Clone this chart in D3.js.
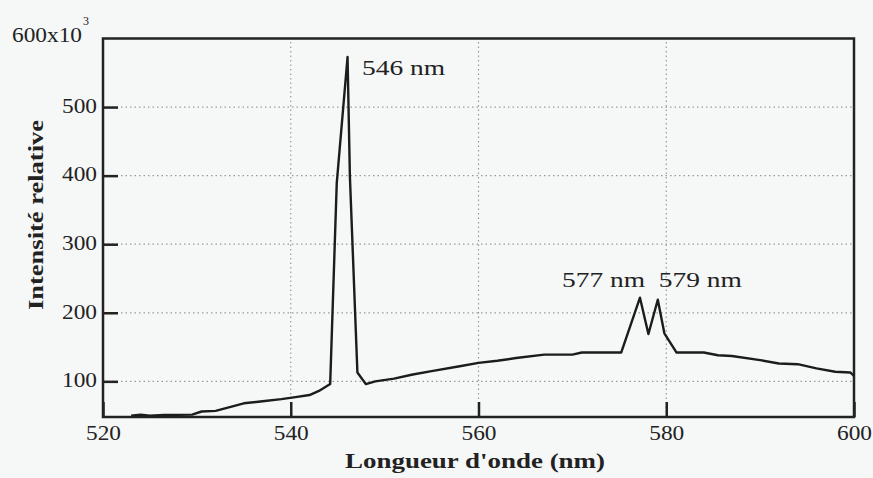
<!DOCTYPE html>
<html>
<head>
<meta charset="utf-8">
<script src="https://cdn.jsdelivr.net/npm/d3@7"></script>
<style>
  html, body { margin: 0; padding: 0; background: #f6f7f7; }
  svg { display: block; }
  text { font-family: "Liberation Serif", "Times New Roman", serif; fill: #222; }
</style>
</head>
<body>
<svg id="chart" width="873" height="478"></svg>
<script>
// ---- data ----
const wavelengths = [523, 524, 525, 526.5, 529.5, 530.5, 532, 535, 537, 539, 540.5, 542, 543, 544.2,
  544.9, 546.05, 546.3, 547.1, 548, 549, 551, 553, 555, 558, 560, 562, 564, 567, 570, 571,
  575.2, 577.2, 578.1, 579.1, 579.8, 581.1, 584, 585.5, 587, 590, 592, 594, 596, 598, 599.6, 600];
const intensities = [50, 51.5, 50, 51, 51.5, 56, 57, 68, 71, 74, 77, 80, 86, 96,
  389, 573, 399, 113, 96, 100, 104, 110, 115, 122, 127, 130, 134, 139, 139, 142,
  142, 222, 169, 219, 170, 142, 142, 138, 137, 131, 126, 125, 119, 114, 113, 108];
const xTicks = [520, 540, 560, 580, 600];
const yTicks = [100, 200, 300, 400, 500];
const peakLabels = ["546 nm", "577 nm", "579 nm"];
const peakLabelX = [547.6, 568.9, 579.2];   // left edge of label (nm)
const peakLabelY = [547, 238, 238];         // baseline (intensity units)
const xTitle = "Longueur d'onde (nm)";
const yTitle = "Intensité relative";

// ---- layout ----
const W = 873, H = 478;
const m = { left: 103, right: 19, top: 38.5, bottom: 61 };
const svg = d3.select("#chart");
const x = d3.scaleLinear().domain([520, 600]).range([m.left, W - m.right]);
const y = d3.scaleLinear().domain([48, 600]).range([H - m.bottom, m.top]);

// gridlines
const grid = svg.append("g").attr("stroke", "#9a9a9a").attr("stroke-width", 1.2)
  .attr("stroke-dasharray", "1.5,3");
grid.selectAll("line.h").data(yTicks).join("line")
  .attr("x1", x(520)).attr("x2", x(600)).attr("y1", d => y(d)).attr("y2", d => y(d));
grid.selectAll("line.v").data([540, 560, 580]).join("line")
  .attr("y1", y(48)).attr("y2", y(600)).attr("x1", d => x(d)).attr("x2", d => x(d));

// axes
const yAxis = svg.append("g").attr("transform", `translate(${m.left},0)`)
  .call(d3.axisLeft(y).tickValues(yTicks).tickSize(-15).tickPadding(6).tickFormat(d3.format("d")));
const xAxis = svg.append("g").attr("transform", `translate(0,${H - m.bottom})`)
  .call(d3.axisBottom(x).tickValues(xTicks).tickSize(-15).tickPadding(8).tickFormat(d3.format("d")));
[xAxis, yAxis].forEach(a => {
  a.select(".domain").remove();
  a.selectAll(".tick line").attr("stroke", "#222").attr("stroke-width", 2.5);
  a.selectAll(".tick text").attr("font-family", "Liberation Serif, serif")
    .attr("font-size", 21).attr("fill", "#222")
    .attr("textLength", 35).attr("lengthAdjust", "spacingAndGlyphs");
});
yAxis.selectAll(".tick text").attr("dy", "0.25em");

// frame
svg.append("rect").attr("x", x(520)).attr("y", y(600))
  .attr("width", x(600) - x(520)).attr("height", y(48) - y(600))
  .attr("fill", "none").attr("stroke", "#222").attr("stroke-width", 2.5);

// top label 600x10^3
const topLab = svg.append("text").attr("x", 12).attr("y", 42).attr("font-size", 21);
topLab.append("tspan").text("600x10").attr("textLength", 70).attr("lengthAdjust", "spacingAndGlyphs");
topLab.append("tspan").text("3").attr("font-size", 12).attr("dx", 1).attr("dy", -17);

// spectrum line
const pts = wavelengths.map((w, i) => [w, intensities[i]]);
svg.append("path").datum(pts)
  .attr("fill", "none").attr("stroke", "#1c1c1c").attr("stroke-width", 2.4)
  .attr("stroke-linejoin", "round")
  .attr("d", d3.line().x(d => x(d[0])).y(d => y(d[1])));

// peak labels
svg.selectAll("text.peak").data(peakLabels).join("text").attr("class", "peak")
  .attr("x", (d, i) => x(peakLabelX[i])).attr("y", (d, i) => y(peakLabelY[i]))
  .attr("font-size", 22).attr("textLength", 83).attr("lengthAdjust", "spacingAndGlyphs")
  .text(d => d);

// axis titles
svg.append("text").attr("x", 475).attr("y", 468).attr("text-anchor", "middle")
  .attr("font-size", 22).attr("font-weight", "bold")
  .attr("textLength", 260).attr("lengthAdjust", "spacingAndGlyphs").text(xTitle);
svg.append("text").attr("transform", "translate(43,215) rotate(-90)").attr("text-anchor", "middle")
  .attr("font-size", 22).attr("font-weight", "bold")
  .attr("textLength", 190).attr("lengthAdjust", "spacingAndGlyphs").text(yTitle);
</script>
</body>
</html>
